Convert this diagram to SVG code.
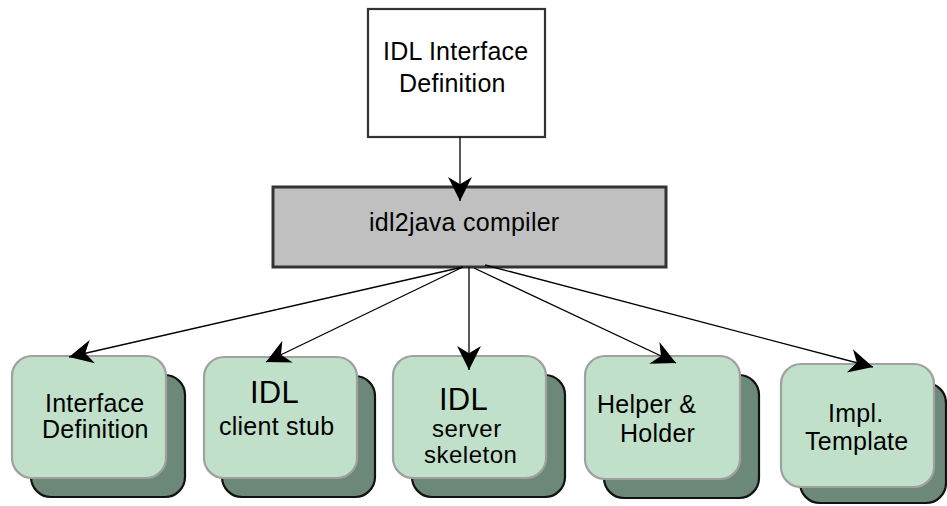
<svg xmlns="http://www.w3.org/2000/svg" width="947" height="506" viewBox="0 0 947 506">
  <style>
    text { font-family: "Liberation Sans", Arial, Helvetica, sans-serif; font-size: 25px; letter-spacing: 0.25px; fill: #000; }
    .big { font-size: 31px; }
    .tight { font-size: 24px; letter-spacing: 0.5px; }
    .src { fill: #fff; stroke: #333; stroke-width: 2.2; }
    .tool { fill: #c0c0c0; stroke: #333; stroke-width: 3; }
    .card { fill: #c0e0ca; stroke: #a0a0a0; stroke-width: 2.2; }
    .shadow { fill: #6b8878; stroke: #111; stroke-width: 2.2; }
    .link { stroke: #000; stroke-width: 1.3; fill: none; marker-end: url(#head); }
  </style>
  <defs>
    <marker id="head" markerUnits="userSpaceOnUse" markerWidth="26" markerHeight="26" viewBox="-24 -12 25 24" refX="0" refY="0" orient="auto">
      <path d="M0,0 L-23,-11.5 L-16,0 L-23,11.5 Z" fill="#000"/>
    </marker>
  </defs>

  <g id="idl-source">
    <rect class="src" x="368" y="9" width="177" height="128"/>
    <text x="383" y="60">IDL Interface</text>
    <text x="399" y="92">Definition</text>
  </g>

  <g id="compiler">
    <rect class="tool" x="273" y="187" width="393" height="80"/>
    <text x="369" y="231">idl2java compiler</text>
  </g>

  <g id="interface-definition">
    <rect class="shadow" x="31" y="375" width="154" height="122" rx="20"/>
    <rect class="card" x="12" y="356" width="154" height="122" rx="20"/>
    <text x="45" y="412">Interface</text>
    <text x="42" y="438">Definition</text>
  </g>

  <g id="client-stub">
    <rect class="shadow" x="222" y="376" width="153" height="121" rx="20"/>
    <rect class="card" x="204" y="357" width="153" height="121" rx="20"/>
    <text class="big" x="250" y="403">IDL</text>
    <text x="219" y="435">client stub</text>
  </g>

  <g id="server-skeleton">
    <rect class="shadow" x="412" y="375" width="153" height="122" rx="20"/>
    <rect class="card" x="393" y="356" width="153" height="122" rx="20"/>
    <text class="big" x="439" y="410">IDL</text>
    <text class="tight" x="432" y="437">server</text>
    <text class="tight" x="424" y="463">skeleton</text>
  </g>

  <g id="helper-holder">
    <rect class="shadow" x="604" y="375" width="155" height="123" rx="20"/>
    <rect class="card" x="585" y="356" width="155" height="123" rx="20"/>
    <text x="597" y="413">Helper &amp;</text>
    <text x="620" y="442">Holder</text>
  </g>

  <g id="impl-template">
    <rect class="shadow" x="800" y="383" width="146" height="120" rx="20"/>
    <rect class="card" x="781" y="364" width="153" height="123" rx="20"/>
    <text x="828" y="422">Impl.</text>
    <text x="805" y="450">Template</text>
  </g>

  <g id="connectors">
    <line class="link" x1="460" y1="137" x2="460" y2="201"/>
    <line class="link" x1="463" y1="267" x2="69" y2="357"/>
    <line class="link" x1="463" y1="267" x2="266" y2="362"/>
    <line class="link" x1="469" y1="267" x2="469" y2="370"/>
    <line class="link" x1="474" y1="268" x2="676" y2="363"/>
    <line class="link" x1="485" y1="265" x2="873" y2="367"/>
  </g>
</svg>
